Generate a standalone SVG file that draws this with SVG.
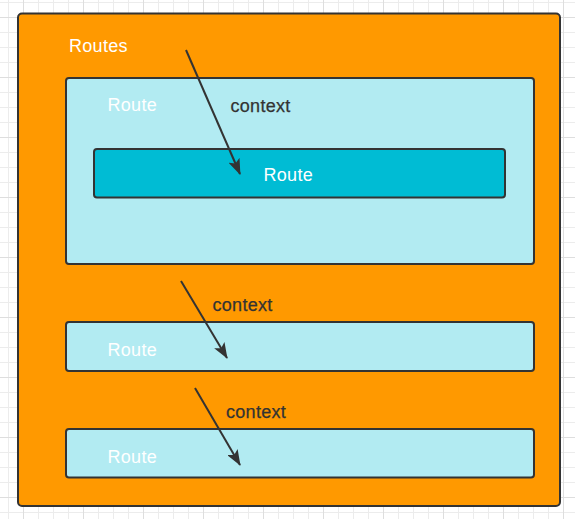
<svg xmlns="http://www.w3.org/2000/svg" width="575" height="519" viewBox="0 0 575 519">
<style>
.box{stroke:#333;stroke-width:2}
.outer{fill:#ff9900}
.light{fill:#b2ebf2}
.dark{fill:#00bcd4}
.t{font-family:"Liberation Sans",Arial,sans-serif;font-size:18px;letter-spacing:0.3px}
.w{fill:#fff}
.k{fill:#333;stroke:#333;stroke-width:0.25}
.conn{stroke:#333;stroke-width:2;fill:none;marker-end:url(#arr)}
</style>
<defs>
<pattern id="minor" x="8" y="2" width="15" height="15" patternUnits="userSpaceOnUse">
<path d="M0 0.5H15M0.5 0V15" stroke="#ececec" stroke-width="1" fill="none"/>
</pattern>
<pattern id="major" x="23" y="17" width="60" height="60" patternUnits="userSpaceOnUse">
<path d="M0 0.5H60M0.5 0V60" stroke="#dedede" stroke-width="1" fill="none"/>
</pattern>
<marker id="arr" markerUnits="userSpaceOnUse" markerWidth="16" markerHeight="12" viewBox="0 0 16 12" refX="15" refY="6" orient="auto">
<path d="M0 0L16 6L0 12L3.5 6Z" fill="#333"/>
</marker>
</defs>
<rect width="575" height="519" fill="#fff"/>
<rect width="575" height="519" fill="url(#minor)"/>
<rect width="575" height="519" fill="url(#major)"/>
<g id="routes">
<rect class="box outer" x="18" y="13.5" width="542" height="492.5" rx="4"/>
<text class="t w" x="69" y="52">Routes</text>
</g>
<g id="route1">
<rect class="box light" x="66" y="78" width="468" height="186" rx="3"/>
<text class="t w" x="107.5" y="111">Route</text>
</g>
<g id="route-inner">
<rect class="box dark" x="94" y="149" width="411" height="48.5" rx="3"/>
<text class="t w" x="263.5" y="181">Route</text>
</g>
<g id="route2">
<rect class="box light" x="66" y="322" width="468" height="49" rx="3"/>
<text class="t w" x="107.5" y="356">Route</text>
</g>
<g id="route3">
<rect class="box light" x="66" y="429" width="468" height="48.5" rx="3"/>
<text class="t w" x="107.5" y="463">Route</text>
</g>
<g id="connectors">
<line class="conn" x1="186" y1="50" x2="240" y2="174"/>
<line class="conn" x1="181" y1="281" x2="227" y2="358"/>
<line class="conn" x1="195" y1="388" x2="240" y2="465"/>
<text class="t k" x="230.5" y="112">context</text>
<text class="t k" x="212.5" y="311">context</text>
<text class="t k" x="226" y="418">context</text>
</g>
</svg>
